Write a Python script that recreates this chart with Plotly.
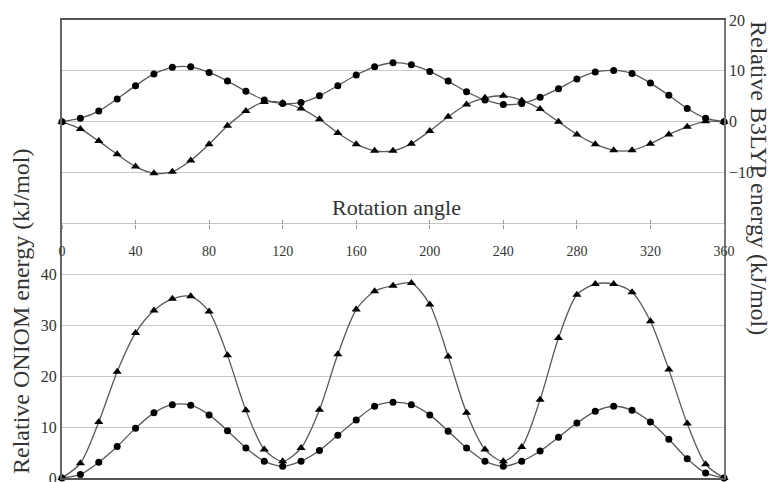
import plotly.graph_objects as go

angles = list(range(0, 361, 10))

b3lyp_circle = [0, 0.7, 2.1, 4.5, 7.1, 9.4, 10.7, 10.8, 9.7, 8.0, 6.0, 4.3, 3.6, 3.8, 5.1, 7.1,
                9.2, 10.8, 11.6, 11.2, 9.9, 8.0, 5.9, 4.3, 3.4, 3.6, 4.8, 6.5, 8.4, 9.8, 10.1,
                9.5, 7.6, 5.2, 2.6, 0.7, 0]
b3lyp_triangle = [0, -1.4, -3.8, -6.4, -8.8, -10.1, -9.8, -7.6, -4.4, -0.8, 2.1, 3.9, 3.7, 2.6,
                  0.5, -2.2, -4.4, -5.7, -5.7, -4.3, -1.8, 1.0, 3.4, 4.7, 5.1, 4.2, 2.5, 0, -2.5,
                  -4.4, -5.6, -5.6, -4.3, -2.5, -1.0, 0.1, 0]
oniom_triangle = [0, 2.9, 11.0, 20.9, 28.5, 32.9, 35.2, 35.7, 32.7, 24.1, 13.3, 5.6, 3.3, 5.9,
                  13.4, 24.3, 33.1, 36.7, 37.8, 38.3, 34.1, 23.9, 12.8, 5.6, 3.3, 6.1, 15.4, 27.5,
                  36.0, 38.1, 38.1, 36.5, 30.8, 21.3, 10.7, 2.7, 0]
oniom_circle = [0, 0.7, 3.1, 6.2, 9.8, 12.8, 14.4, 14.3, 12.4, 9.3, 5.9, 3.3, 2.3, 3.3, 5.4, 8.4,
                11.4, 14.1, 14.9, 14.4, 12.4, 9.2, 5.9, 3.3, 2.3, 3.3, 5.3, 8.0, 10.8, 13.1, 14.1,
                13.3, 11.0, 7.6, 3.8, 1.0, 0]

x_ticks = list(range(0, 361, 40))
left_ticks = list(range(0, 91, 10))
left_labels = ["0", "10", "20", "30", "40", "", "", "", "", ""]
right_ticks = [-10, 0, 10, 20]

FONT = "Liberation Serif, Times New Roman, serif"
LINE = "#585858"
TXT = "#333333"

fig = go.Figure()

def add(y, symbol, xaxis, yaxis):
    fig.add_trace(go.Scatter(
        x=angles, y=y, mode="lines+markers", xaxis=xaxis, yaxis=yaxis,
        line=dict(color=LINE, width=1.3, shape="spline", smoothing=0.8),
        marker=dict(symbol=symbol, size=7 if symbol == "circle" else 8, color="black"),
        showlegend=False, hoverinfo="skip", cliponaxis=False))

add(oniom_triangle, "triangle-up", "x", "y")
add(oniom_circle, "circle", "x2", "y")
add(b3lyp_circle, "circle", "x3", "y2")
add(b3lyp_triangle, "triangle-up", "x3", "y2")

xpos = 50 / 90

fig.update_layout(
    width=776, height=482,
    margin=dict(l=54, r=60, t=12, b=12, autoexpand=False),
    paper_bgcolor="white", plot_bgcolor="white",
    font=dict(family=FONT, color=TXT),
    xaxis=dict(range=[0, 360], showgrid=False, zeroline=False, showticklabels=False,
               showline=True, linecolor="#555555", linewidth=2, mirror=True, ticks=""),
    xaxis2=dict(range=[0, 360], overlaying="x", anchor="free", position=xpos,
                tickvals=x_ticks, ticks="outside", ticklen=4, tickcolor="#999999",
                showgrid=False, zeroline=False, showline=False, automargin=False,
                tickfont=dict(size=14, family=FONT, color=TXT), ticklabelstandoff=11),
    xaxis3=dict(range=[0, 360], overlaying="x", anchor="free", position=xpos,
                tickvals=x_ticks, ticks="inside", ticklen=4, tickcolor="#999999", automargin=False,
                showticklabels=False, showgrid=False, zeroline=False, showline=False),
    yaxis=dict(range=[0, 90], tickvals=left_ticks, ticktext=left_labels, automargin=False,
               showgrid=True, gridcolor="#c8c8c8", gridwidth=1.3, zeroline=False,
               showline=True, linecolor="#666666", linewidth=2, ticks="",
               tickfont=dict(size=16, family=FONT, color=TXT)),
    yaxis2=dict(range=[-70, 20], overlaying="y", side="right", tickvals=right_ticks,
                showgrid=False, zeroline=False, showline=True, linecolor="#777777", automargin=False,
                linewidth=1.5, ticks="", tickfont=dict(size=16, family=FONT, color=TXT)),
    annotations=[
        dict(text="Rotation angle", x=(397 - 62) / 662, y=(478 - 207) / 458,
             xref="paper", yref="paper", showarrow=False, xanchor="center", yanchor="middle",
             font=dict(size=22, family=FONT, color=TXT)),
        dict(text="Relative ONIOM energy (kJ/mol)", x=(21 - 62) / 662, y=(478 - 311) / 458,
             xref="paper", yref="paper", showarrow=False, textangle=-90,
             xanchor="center", yanchor="middle",
             font=dict(size=24, family=FONT, color=TXT)),
        dict(text="Relative B3LYP energy (kJ/mol)", x=(759 - 62) / 662, y=(478 - 178) / 458,
             xref="paper", yref="paper", showarrow=False, textangle=90,
             xanchor="center", yanchor="middle",
             font=dict(size=24, family=FONT, color=TXT)),
    ],
)

fig.write_html("out.html")
